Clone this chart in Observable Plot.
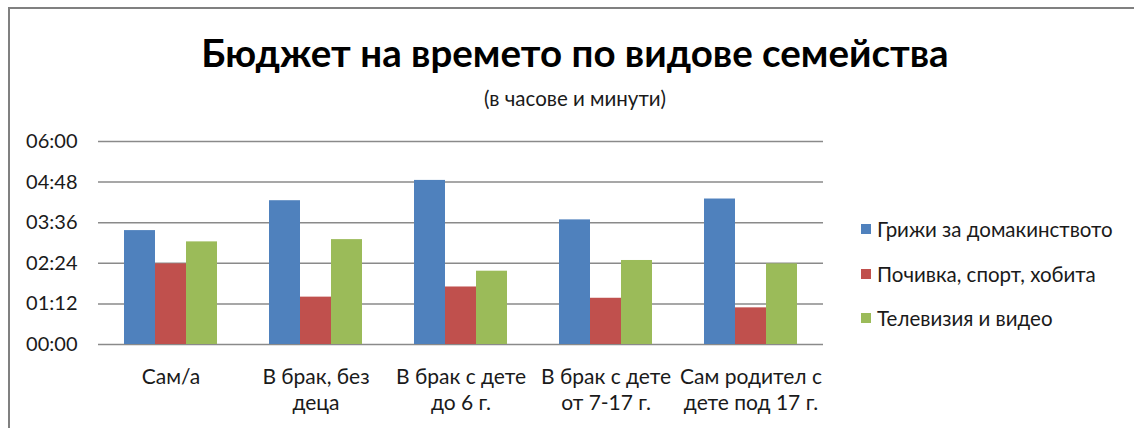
<!DOCTYPE html>
<html>
<head>
<meta charset="utf-8">
<script src="https://cdn.jsdelivr.net/npm/d3@7"></script>
<script src="https://cdn.jsdelivr.net/npm/@observablehq/plot@0.6"></script>
<style>
  html, body { margin: 0; padding: 0; background: #fff; }
  #wrap { position: relative; width: 1134px; height: 428px; overflow: hidden; background: #fff; font-family: Lato, "Noto Sans", sans-serif; color: #1a1a1a; }
  #border { position: absolute; left: 8px; top: 7px; width: 2000px; height: 1000px; border-top: 2px solid #808080; border-left: 2px solid #808080; }
  #header { position: relative; height: 120px; }
  #title { position: absolute; left: 8px; width: 1134px; top: 29px; text-align: center; font-weight: bold; font-size: 38.5px; color: #000; }
  #subtitle { position: absolute; left: 8px; width: 1134px; top: 86px; text-align: center; font-size: 20.5px; color: #1a1a1a; }
  #legend { position: absolute; left: 861px; top: 207px; font-size: 20.5px; color: #1a1a1a; }
  .item { display: flex; align-items: center; height: 44.5px; white-space: nowrap; }
  .sw { width: 10px; height: 10px; margin-right: 6px; flex: none; }
  #chart { position: absolute; left: 0; top: 120px; }
</style>
</head>
<body>
<div id="wrap">
  <div id="border"></div>
  <div id="header">
    <div id="title"></div>
    <div id="subtitle"></div>
  </div>
  <div id="chart"></div>
  <div id="legend"></div>
</div>
<script>
const title = "Бюджет на времето по видове семейства";
const subtitle = "(в часове и минути)";
const categories = ["Сам/а", "В брак, без деца", "В брак с дете до 6 г.", "В брак с дете от 7-17 г.", "Сам родител с дете под 17 г."];
const tickLabels = ["Сам/а", "В брак, без\nдеца", "В брак с дете\nдо 6 г.", "В брак с дете\nот 7-17 г.", "Сам родител с\nдете под 17 г."];
const series = ["Грижи за домакинството", "Почивка, спорт, хобита", "Телевизия и видео"];
// values in minutes
const housework = [202, 255, 291, 221, 258];
const leisure = [143, 84, 102, 82, 65];
const tv = [182, 186, 130, 149, 143];
const yTicks = [0, 72, 144, 216, 288, 360];
const colors = ["#4f81bd", "#c0504d", "#9bbb59"];

const seriesValues = [housework, leisure, tv];
const data = categories.flatMap((c, i) => series.map((s, j) => ({category: c, series: s, minutes: seriesValues[j][i]})));

const fmt = m => String(Math.floor(m / 60)).padStart(2, "0") + ":" + String(m % 60).padStart(2, "0");

document.getElementById("title").textContent = title;
document.getElementById("subtitle").textContent = subtitle;

const chart = Plot.plot({
  width: 1134,
  height: 308,
  marginTop: 21,
  marginBottom: 84,
  marginLeft: 97,
  marginRight: 311,
  style: {fontFamily: "Lato, 'Noto Sans', sans-serif", fontSize: "20px", color: "#1a1a1a", background: "transparent", overflow: "visible"},
  fx: {domain: categories, padding: 0, label: null},
  x: {domain: series, axis: null, paddingInner: 0, paddingOuter: 0.77},
  y: {domain: [0, 360], label: null},
  color: {domain: series, range: colors},
  marks: [
    Plot.gridY(yTicks, {stroke: "#8a8a8a", strokeOpacity: 1, strokeWidth: 1.5}),
    Plot.barY(data, {fx: "category", x: "series", y: "minutes", fill: "series"}),
    Plot.axisY(yTicks, {tickSize: 0, tickPadding: 21, tickFormat: fmt, fontSize: 20, line: true, stroke: "#8a8a8a", fill: "#1a1a1a", label: null}),
    Plot.axisFx({anchor: "bottom", tickSize: 0, tickPadding: 21, tickFormat: c => tickLabels[categories.indexOf(c)], fontSize: 21, lineHeight: 1.24, fill: "#1a1a1a", label: null})
  ]
});
document.getElementById("chart").appendChild(chart);

const legend = document.getElementById("legend");
series.forEach((s, i) => {
  const row = document.createElement("div");
  row.className = "item";
  const sw = document.createElement("span");
  sw.className = "sw";
  sw.style.background = colors[i];
  const t = document.createElement("span");
  t.textContent = s;
  row.appendChild(sw);
  row.appendChild(t);
  legend.appendChild(row);
});
</script>
</body>
</html>
